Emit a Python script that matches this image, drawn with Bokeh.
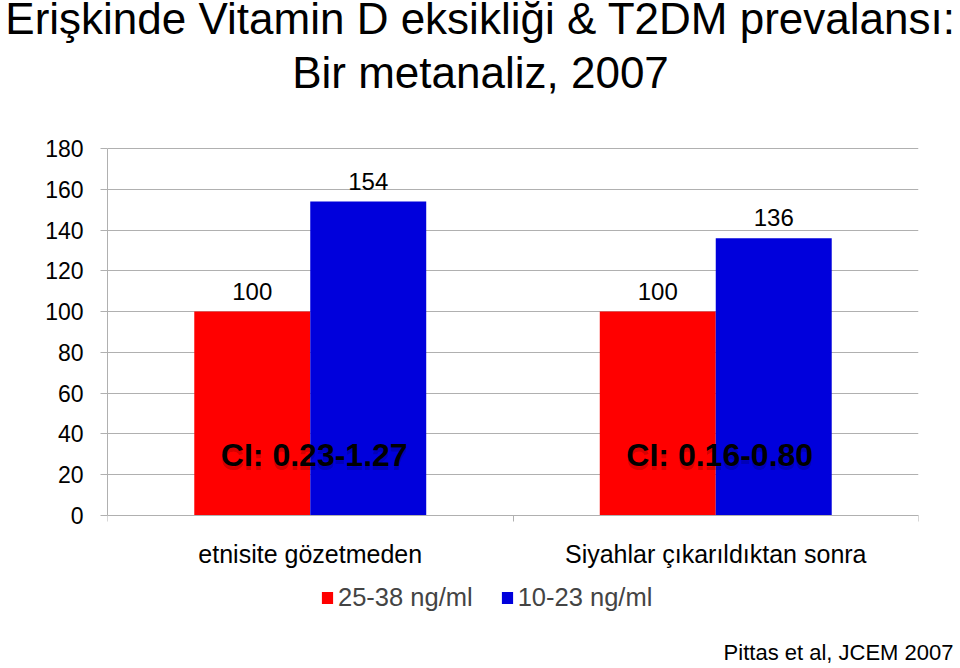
from bokeh.plotting import figure
from bokeh.layouts import column
from bokeh.models import (Range1d, FixedTicker, LinearAxis, Grid, ColumnDataSource,
                          LabelSet, Label, Legend, LegendItem, Title)
from bokeh.transform import dodge
from bokeh.core.properties import value
from bokeh.embed import file_html
from bokeh.resources import INLINE

# ---------------- data ----------------
categories = ["etnisite gözetmeden", "Siyahlar çıkarıldıktan sonra"]
series_names = ["25-38 ng/ml", "10-23 ng/ml"]
vitd_25_38 = [100, 100]
vitd_10_23 = [154, 136]
ci_labels = ["CI: 0.23-1.27", "CI: 0.16-0.80"]
y_ticks = [0, 20, 40, 60, 80, 100, 120, 140, 160, 180]
title_lines = ["Erişkinde Vitamin D eksikliği & T2DM prevalansı:", "Bir metanaliz, 2007"]
citation = "Pittas et al, JCEM 2007"

# ---------------- style / layout ----------------
FONT = "Liberation Sans"
RED = "#FF0000"
BLUE = "#0000DC"
GRAY = "#B0B0B0"
BAR_W = 0.286
OFF = BAR_W / 2
HEAD_H = 100                    # height of the title strip
MAIN_H = 568                    # height of the chart
BOTTOM = 536                    # frame bottom inside the chart (px)
ZERO_PX, PX_PER_UNIT = 415, 367 / 180.0

centers = [i + 0.5 for i in range(len(categories))]
boundaries = [i for i in range(len(categories) + 1)]

src = ColumnDataSource(dict(
    x=centers,
    a=vitd_25_38,
    b=vitd_10_23,
    a_txt=[str(v) for v in vitd_25_38],
    b_txt=[str(v) for v in vitd_10_23],
    ci=ci_labels,
))

# ---------------- title strip ----------------
head = figure(width=960, height=HEAD_H, output_backend="svg", toolbar_location=None,
              x_range=Range1d(0, 1), y_range=Range1d(0, 1),
              x_axis_type=None, y_axis_type=None,
              min_border_left=0, min_border_right=0, min_border_top=0, min_border_bottom=0)
head.frame_align = False
head.outline_line_color = None
head.grid.visible = False
for txt, yy in zip(title_lines, (82, 28)):
    head.add_layout(Label(x=480, y=yy, x_units="screen", y_units="screen", text=txt,
                          text_align="center", text_baseline="alphabetic",
                          text_font=FONT, text_font_size="44px", text_color="black"))

# ---------------- chart ----------------
y_lo = -(BOTTOM - ZERO_PX) / PX_PER_UNIT
y_hi = ZERO_PX / PX_PER_UNIT

p = figure(width=960, height=MAIN_H, output_backend="svg", toolbar_location=None,
           x_range=Range1d(0, len(categories)), y_range=Range1d(y_lo, y_hi),
           x_axis_type=None, y_axis_type=None,
           min_border_left=107, min_border_right=42,
           min_border_top=0, min_border_bottom=MAIN_H - BOTTOM)
p.frame_align = False
p.outline_line_color = None
p.background_fill_color = "white"
p.border_fill_color = "white"

# y axis
yax = LinearAxis(ticker=FixedTicker(ticks=y_ticks), bounds=(0, 180))
yax.axis_line_color = GRAY
yax.major_tick_line_color = GRAY
yax.major_tick_out = 7
yax.major_tick_in = 0
yax.minor_tick_line_color = None
yax.major_label_standoff = 17
yax.major_label_text_font = FONT
yax.major_label_text_font_size = "23px"
yax.major_label_text_color = "black"
p.add_layout(yax, "left")
p.add_layout(Grid(dimension=1, ticker=FixedTicker(ticks=y_ticks),
                  grid_line_color=GRAY, grid_line_width=1))

# x axis at y = 0
xax = LinearAxis(ticker=FixedTicker(ticks=centers, minor_ticks=boundaries), fixed_location=0)
xax.major_label_overrides = {c: name for c, name in zip(centers, categories)}
xax.axis_line_color = GRAY
xax.major_tick_line_color = None
xax.major_tick_out = 0
xax.major_tick_in = 0
xax.minor_tick_line_color = GRAY
xax.minor_tick_out = 6
xax.minor_tick_in = 0
xax.major_label_standoff = 18
xax.major_label_text_font = FONT
xax.major_label_text_font_size = "25px"
xax.major_label_text_color = "black"
p.add_layout(xax, "below")

# bars
r_a = p.vbar(x=dodge("x", -OFF, range=p.x_range), top="a", width=BAR_W, source=src,
             fill_color=RED, line_color=None)
r_b = p.vbar(x=dodge("x", OFF, range=p.x_range), top="b", width=BAR_W, source=src,
             fill_color=BLUE, line_color=None)

# value labels
for col, txt, d in (("a", "a_txt", -OFF), ("b", "b_txt", OFF)):
    p.add_layout(LabelSet(x=dodge("x", d, range=p.x_range), y=col, text=txt, source=src,
                          y_offset=12, text_align="center", text_baseline="alphabetic",
                          text_font=value(FONT), text_font_size=value("24px"),
                          text_color="black"))

# CI labels with soft shadow
p.add_layout(LabelSet(x="x", y=24.5, text="ci", source=src, x_offset=4, y_offset=-4,
                      text_align="center", text_baseline="alphabetic",
                      text_font=value(FONT), text_font_size=value("32px"),
                      text_font_style="bold", text_color="black", text_alpha=0.18))
p.add_layout(LabelSet(x="x", y=24.5, text="ci", source=src, x_offset=4,
                      text_align="center", text_baseline="alphabetic",
                      text_font=value(FONT), text_font_size=value("32px"),
                      text_font_style="bold", text_color="black"))

# legend (inside the frame, below the axis)
legend = Legend(items=[LegendItem(label=series_names[0], renderers=[r_a]),
                       LegendItem(label=series_names[1], renderers=[r_b])],
                orientation="horizontal", location=(213, 24),
                glyph_width=14, glyph_height=15, label_standoff=4, spacing=27,
                padding=0, margin=0, border_line_color=None, background_fill_alpha=0,
                label_text_font=FONT, label_text_font_size="25.5px", label_height=24)
p.add_layout(legend, "center")

# citation (below panel)
p.add_layout(Title(text=citation, align="right", offset=-35, standoff=2,
                   text_font=FONT, text_font_size="22px", text_font_style="normal",
                   text_color="black"), "below")

page = column(head, p, spacing=0)
open("out.html", "w").write(file_html(page, INLINE))
